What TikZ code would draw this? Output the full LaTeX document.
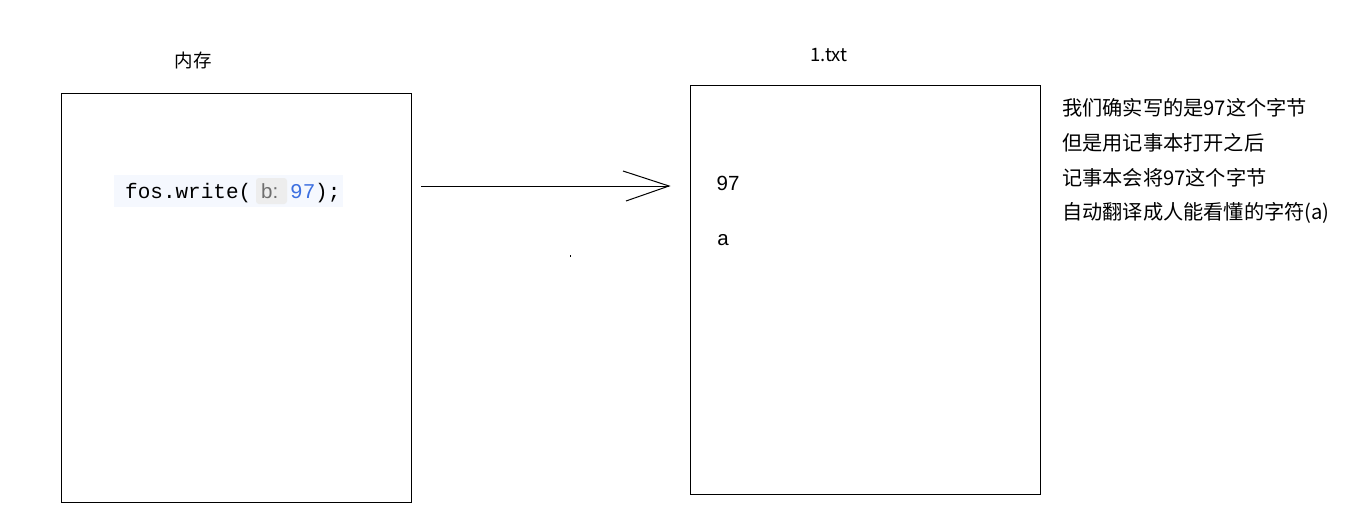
\documentclass[tikz,border=0pt]{standalone}
\usepackage{fontspec}
\setmainfont{Liberation Sans}
\setmonofont{Liberation Mono}
\newfontfamily\cjk{Noto Sans CJK SC}
\definecolor{codebg}{HTML}{F5F8FE}
\definecolor{hintbg}{HTML}{EDEDED}
\definecolor{hintfg}{HTML}{6E6E6E}
\definecolor{numblue}{HTML}{3C6FE0}
\begin{document}
\begin{tikzpicture}[x=1pt,y=-1pt,
  box/.style={draw=black,line width=1pt},
  lbl/.style={inner sep=0pt,font=\cjk\fontsize{18.5}{18.5}\selectfont},
  note/.style={inner sep=0pt,anchor=west,font=\cjk\fontsize{20.2}{20.2}\selectfont},
  txt/.style={inner sep=0pt,font=\fontsize{20.5}{20.5}\selectfont}]
\useasboundingbox (0,0) rectangle (1356,509);
\fill[white] (0,0) rectangle (1356,509);
% boxes
\draw[box] (61,93) rectangle (411,502);
\draw[box] (690,85) rectangle (1040,494);
\node[lbl] (mem) at (193,60) {内存};
\node[lbl] (file) at (829,55) {1.txt};
% code line
\fill[codebg] (114,175) rectangle (343,207);
\fill[hintbg, rounded corners=3pt] (256,178) rectangle (287,204);
\node[inner sep=0pt,anchor=base west,font=\ttfamily\fontsize{21}{21}\selectfont] (code) at (125,198) {fos.write(};
\node[inner sep=0pt,anchor=base west,font=\fontsize{20.5}{20.5}\selectfont,text=hintfg] (hint) at (261,198) {b:};
\node[inner sep=0pt,anchor=base west,font=\ttfamily\fontsize{21}{21}\selectfont,text=numblue] (num) at (290,198) {97};
\node[inner sep=0pt,anchor=base west,font=\ttfamily\fontsize{21}{21}\selectfont] (close) at (315,198) {);};
% arrow
\coordinate (as) at (421,186);
\coordinate (ae) at (669,186);
\coordinate (h1) at (623,171);
\coordinate (h2) at (626,201);
\draw[line width=1pt] (as) -- (ae);
\draw[line width=1pt] (h1) -- (ae) -- (h2);
% stray dot
\fill (569.5,255) rectangle (570.5,257);
% file contents
\node[txt] (n97) at (728,183) {97};
\node[txt] (na) at (723,240) {a};
% notes
\node[note] (l1) at (1062,108) {我们确实写的是97这个字节};
\node[note] (l2) at (1062,143) {但是用记事本打开之后};
\node[note] (l3) at (1062,178) {记事本会将97这个字节};
\node[note] (l4) at (1062,213) {自动翻译成人能看懂的字符(a)};
\end{tikzpicture}
\end{document}
